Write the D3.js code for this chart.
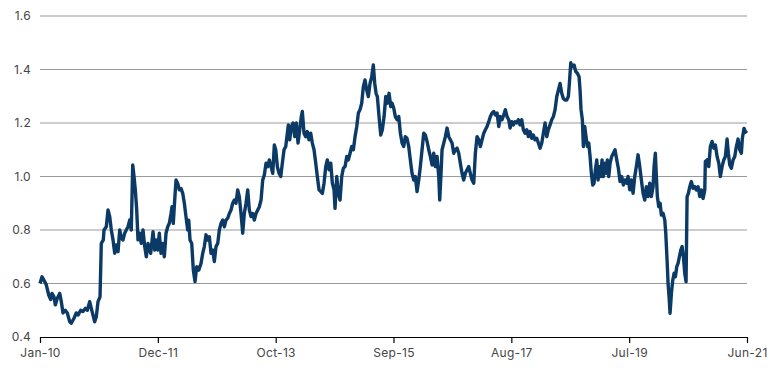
<!DOCTYPE html>
<html>
<head>
<meta charset="utf-8">
<script src="https://cdn.jsdelivr.net/npm/d3@7"></script>
<style>
  body { margin: 0; background: #fff; }
  .axis text { font-family: Inter, "Noto Sans", sans-serif; font-size: 12px; fill: #454545; letter-spacing: 0.3px; }
</style>
</head>
<body>
<div id="chart"></div>
<script>
// months since Jan-10
var months = [0,0.39,0.91,1.22,1.69,2.07,2.33,2.71,2.97,3.35,3.82,4.13,4.46,4.90,5.29,5.76,6.07,6.59,7.03,7.36,7.89,8.33,8.78,9.17,9.63,9.94,10.27,10.60,10.91,11.24,11.63,11.88,12.27,12.40,12.85,13.18,13.51,13.82,14.15,14.48,14.79,15.12,15.45,15.76,16.09,16.41,16.72,17.05,17.38,17.69,17.97,18.22,18.47,18.74,18.99,19.32,19.63,19.96,20.29,20.60,20.93,21.45,21.90,22.23,
  22.48,22.81,23.12,23.45,23.78,24.09,24.42,24.75,25.06,25.39,25.58,25.83,26.10,26.36,26.69,27.00,27.33,27.66,27.97,28.29,28.62,28.82,29.07,29.40,29.71,30.04,30.37,30.76,31.20,31.53,31.84,32.17,32.50,32.81,33.14,33.47,33.78,34.11,34.44,34.75,35.08,35.41,35.72,36.05,36.38,36.69,37.02,37.34,37.66,37.98,38.31,38.62,38.95,39.28,39.59,39.92,40.25,40.56,40.89,41.22,41.53,41.86,42.19,42.50,42.83,43.16,43.47,43.80,44.13,44.44,44.77,45.10,45.41,
  45.68,45.99,46.32,46.65,46.96,47.29,47.62,47.93,48.12,48.39,48.70,49.03,49.36,49.67,50.00,50.33,50.64,50.83,51.16,51.49,51.80,52.13,52.46,52.77,53.10,53.43,53.74,54.07,54.40,54.71,55.04,55.37,55.68,56.01,56.34,56.65,56.98,57.17,57.50,57.81,58.14,58.47,58.78,59.11,59.44,59.75,60.08,60.41,60.72,61.05,61.38,61.69,62.02,62.34,62.66,62.98,63.31,63.62,63.95,64.28,64.59,64.86,65.12,65.37,65.70,66.03,66.34,66.67,67.00,67.31,67.64,67.97,
  68.22,68.55,68.86,69.19,69.52,69.83,70.16,70.48,70.79,71.12,71.45,71.76,72.09,72.42,72.73,73.06,73.39,73.70,74.03,74.36,74.67,75.00,75.33,75.64,75.97,76.30,76.61,76.94,77.27,77.46,77.71,77.91,78.24,78.55,78.88,79.21,79.52,79.84,80.17,80.48,80.81,81.14,81.45,81.78,82.11,82.42,82.75,83.08,83.39,83.72,84.05,84.36,84.69,85.02,85.33,85.66,85.99,86.30,86.63,86.96,87.27,87.60,87.93,88.24,88.57,88.90,89.21,89.53,89.86,90.17,90.50,90.83,
  91.09,91.42,91.72,92.05,92.38,92.69,93.02,93.35,93.66,93.99,94.32,94.63,94.96,95.29,95.60,95.93,96.26,96.57,96.90,97.23,97.54,97.87,98.20,98.51,98.84,99.17,99.48,99.81,100.14,100.45,100.78,101.10,101.41,101.74,102.07,102.38,102.58,102.85,103.16,103.49,103.82,104.13,104.46,104.65,104.84,105.10,105.29,105.56,105.81,106.07,106.34,106.59,106.84,107.11,107.36,107.62,107.89,108.14,108.39,108.66,108.91,109.17,109.44,109.69,109.94,110.21,110.47,110.79,111.10,111.43,111.76,112.07,112.40,112.73,113.04,113.37,113.70,
  113.95,114.28,114.59,114.92,115.25,115.56,115.89,116.22,116.53,116.86,117.19,117.50,117.83,118.16,118.47,118.80,118.99,119.24,119.44,119.63,119.90,120.16,120.41,120.74,121.07,121.26,121.51,121.71,121.90,122.09,122.35,122.62,122.87,123.12,123.39,123.64,123.90,124.17,124.42,124.68,124.94,125.19,125.39,125.64,125.91,126.22,126.55,126.88,127.19,127.52,127.85,128.16,128.49,128.82,128.93,129.26,129.59,129.90,130.23,130.56,130.87,131.20,131.53,131.84,132.17,132.50,132.81,133.14,133.39,133.66,133.97,134.30,134.63,134.94,135.27,135.60,135.91,136.10,136.43,136.69,136.96];

var values = [0.60,0.625,0.607,0.595,0.557,0.54,0.563,0.55,0.52,0.545,0.563,0.532,0.49,0.50,0.49,0.457,0.452,0.47,0.49,0.482,0.50,0.495,0.507,0.50,0.532,0.507,0.482,0.457,0.476,0.532,0.55,0.75,0.763,0.80,0.812,0.875,0.85,0.80,0.763,0.713,0.744,0.719,0.80,0.769,0.763,0.788,0.80,0.812,0.837,0.80,1.043,0.999,0.95,0.875,0.763,0.788,0.75,0.80,0.738,0.70,0.75,0.713,0.794,0.725,
  0.763,0.725,0.788,0.713,0.75,0.70,0.788,0.812,0.825,0.862,0.887,0.825,0.912,0.987,0.974,0.95,0.955,0.937,0.90,0.85,0.80,0.837,0.763,0.75,0.65,0.607,0.663,0.65,0.675,0.713,0.738,0.782,0.763,0.775,0.713,0.725,0.682,0.738,0.75,0.80,0.825,0.837,0.812,0.837,0.844,0.862,0.875,0.90,0.912,0.90,0.95,0.925,0.862,0.788,0.862,0.90,0.95,0.875,0.85,0.862,0.837,0.862,0.875,0.887,0.912,0.987,1.006,1.05,1.037,1.062,1.037,1.012,1.118,
  1.10,1.037,1.012,1.0,1.05,1.10,1.112,1.162,1.193,1.137,1.187,1.20,1.149,1.20,1.125,1.175,1.224,1.243,1.162,1.149,1.168,1.137,1.162,1.125,1.10,1.05,1.0,0.95,0.944,0.937,0.975,1.037,1.062,1.025,1.05,0.975,0.95,0.881,1.0,0.937,0.912,1.0,1.031,1.037,1.075,1.062,1.087,1.112,1.10,1.149,1.187,1.237,1.25,1.274,1.336,1.361,1.323,1.299,1.348,1.373,1.417,1.348,1.311,1.299,1.224,1.155,1.175,1.224,1.299,1.274,1.311,1.261,
  1.274,1.255,1.224,1.212,1.224,1.162,1.125,1.112,1.149,1.143,1.112,1.062,1.012,0.987,1.0,0.944,0.987,1.037,1.10,1.162,1.155,1.131,1.10,1.075,1.043,1.087,1.037,1.075,1.0,0.912,1.012,1.10,1.125,1.149,1.181,1.149,1.137,1.125,1.087,1.10,1.106,1.087,1.05,1.012,0.987,1.012,1.025,1.037,1.012,0.987,0.975,1.087,1.149,1.137,1.112,1.137,1.162,1.175,1.187,1.205,1.224,1.237,1.243,1.230,1.237,1.187,1.224,1.212,1.230,1.25,1.224,1.212,
  1.181,1.205,1.193,1.205,1.20,1.212,1.193,1.212,1.175,1.162,1.175,1.149,1.168,1.143,1.155,1.137,1.143,1.125,1.106,1.125,1.162,1.20,1.149,1.175,1.193,1.212,1.224,1.25,1.299,1.323,1.348,1.311,1.292,1.286,1.286,1.299,1.348,1.425,1.41,1.417,1.392,1.386,1.373,1.323,1.25,1.212,1.112,1.187,1.149,1.112,1.125,1.075,1.012,0.968,0.975,1.025,1.062,0.987,1.037,1.0,1.062,1.0,1.05,1.012,1.062,1.0,1.05,1.075,1.087,1.10,1.062,1.031,0.981,1.0,0.968,0.987,0.975,
  1.0,0.95,0.987,0.937,1.0,1.037,1.081,1.037,0.987,0.937,0.912,0.962,0.925,0.975,0.925,0.962,1.037,1.087,1.0,0.925,0.887,0.90,0.856,0.862,0.837,0.788,0.688,0.60,0.55,0.489,0.563,0.613,0.638,0.625,0.663,0.675,0.70,0.725,0.738,0.70,0.638,0.607,0.925,0.937,0.962,0.981,0.956,0.962,0.95,0.962,0.925,0.95,0.918,0.95,1.056,1.062,1.037,1.112,1.131,1.106,1.118,1.075,1.05,1.0,1.037,1.062,1.075,1.14,1.087,1.043,1.031,1.062,1.075,1.112,1.14,1.10,1.087,1.143,1.18,1.168,1.162];

var tickLabels = ["Jan-10", "Dec-11", "Oct-13", "Sep-15", "Aug-17", "Jul-19", "Jun-21"];
var yTicks = [0.4, 0.6, 0.8, 1.0, 1.2, 1.4, 1.6];

var data = months.map(function(m, i) { return { m: m, v: values[i] }; });

var svgWidth = 770, svgHeight = 372;
var margin = { top: 16, right: 23, bottom: 35, left: 40 };
var width = svgWidth - margin.left - margin.right;
var height = svgHeight - margin.top - margin.bottom;

var svg = d3.select("#chart").append("svg")
    .attr("width", svgWidth)
    .attr("height", svgHeight);

var g = svg.append("g")
    .attr("transform", `translate(${margin.left}, ${margin.top})`);

var x = d3.scaleLinear().domain([0, 137]).range([0, width]);
var y = d3.scaleLinear().domain([0.4, 1.6]).range([height, 0]);

// gridlines
g.selectAll("line.grid")
    .data(yTicks.slice(1))
    .enter()
    .append("line")
    .attr("class", "grid")
    .attr("x1", 0).attr("x2", width)
    .attr("y1", d => y(d)).attr("y2", d => y(d))
    .attr("stroke", "#9a9a9a")
    .attr("stroke-width", 1);

// y axis (labels only)
var yAxis = g.append("g")
    .attr("class", "axis")
    .call(d3.axisLeft(y).tickValues(yTicks).tickFormat(d3.format(".1f")).tickSize(0).tickPadding(9));
yAxis.select(".domain").remove();

// x axis
var xTickVals = tickLabels.map((t, i) => i * 137 / 6);
var xAxis = g.append("g")
    .attr("class", "axis")
    .attr("transform", `translate(0, ${height})`)
    .call(d3.axisBottom(x).tickValues(xTickVals).tickFormat((d, i) => tickLabels[i]).tickSize(6).tickSizeOuter(0).tickPadding(5));
xAxis.select(".domain").attr("stroke", "#000").attr("stroke-width", 1.2);
xAxis.selectAll(".tick line").attr("stroke", "#000").attr("stroke-width", 1.2);

// the series
var line = d3.line()
    .x(d => x(d.m))
    .y(d => y(d.v));

g.append("path")
    .datum(data)
    .attr("fill", "none")
    .attr("stroke", "#0b3a66")
    .attr("stroke-width", 3.4)
    .attr("stroke-linejoin", "round")
    .attr("d", line);
</script>
</body>
</html>
